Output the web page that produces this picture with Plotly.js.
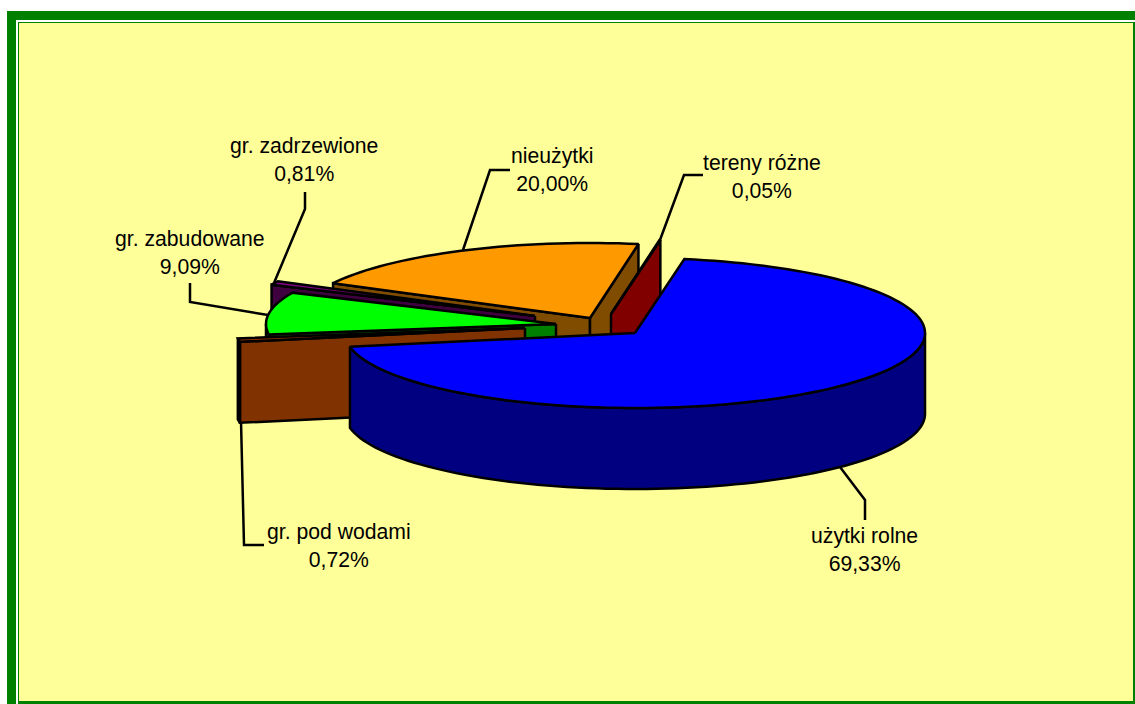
<!DOCTYPE html>
<html>
<head>
<meta charset="utf-8">
<script src="https://cdn.plot.ly/plotly-3.0.1.min.js"></script>
<style>html,body{margin:0;padding:0;background:#fff}#chart{width:1135px;height:704px}</style>
</head>
<body>
<div id="chart"></div>
<script>
// --- data (clockwise from the blue slice) ---
const categories = ["użytki rolne", "gr. pod wodami", "gr. zabudowane", "gr. zadrzewione", "nieużytki", "tereny różne"];
const values = [69.33, 0.72, 9.09, 0.81, 20.00, 0.05];

// --- styles ---
const topColors  = ["#0000FF", "#993300", "#00FF00", "#800080", "#FF9900", "#FF0000"];
const wallColors = ["#000080", "#803300", "#008000", "#400040", "#804D00", "#800000"];

// --- pie geometry ---
const startAngle = -80.2, radiusX = 290, radiusY = 75, depth = 81;
const apexX = [635, 525, 556, 535, 590, 611];
const apexY = [333, 328, 324, 316, 318, 314];
const paintOrder = [4, 5, 3, 2, 1, 0];

// --- label anchors ---
const labelX = [864, 339, 190, 304, 552, 762];
const labelY = [549, 545, 252, 159, 169, 176];
const leaders = [
  "M865,520 L865,500 L840,467",
  "M264,545 L244,545 L241,421",
  "M190,283 L190,302 L268,315",
  "M305,192 L305,209 L274,283",
  "M510,170 L490,170 L463,250",
  "M703,175 L684,175 L660,240"
];

const rad = d => d * Math.PI / 180;
const total = values.reduce((a, b) => a + b, 0);
const traces = [];

function poly(xs, ys, color) {
  traces.push({
    type: "scatter", mode: "lines", x: xs.concat(xs[0]), y: ys.concat(ys[0]),
    fill: "toself", fillcolor: color,
    line: { color: "#000", width: 2.5, simplify: false },
    hoverinfo: "skip", showlegend: false
  });
}

let a = startAngle;
const spans = values.map(v => {
  const s = [a, a + v / total * 360];
  a = s[1];
  return s;
});

function arc(i, t0, t1) {
  const n = Math.max(2, Math.ceil(Math.abs(t1 - t0) / 2));
  const xs = [], ys = [];
  for (let k = 0; k <= n; k++) {
    const t = rad(t0 + (t1 - t0) * k / n);
    xs.push(apexX[i] + radiusX * Math.cos(t));
    ys.push(apexY[i] + radiusY * Math.sin(t));
  }
  return [xs, ys];
}

function edgeWall(i, t) {
  const [ax, ay] = arc(i, t, t);
  const ox = ax[0], oy = ay[0];
  poly([apexX[i], ox, ox, apexX[i]],
       [apexY[i], oy, oy + depth, apexY[i] + depth], wallColors[i]);
}

function outerWall(i, t0, t1) {
  [[0, 180], [360, 540]].forEach(([lo, hi]) => {
    const s = Math.max(t0, lo), e = Math.min(t1, hi);
    if (e <= s) return;
    const [xs, ys] = arc(i, s, e);
    poly(xs.concat(xs.slice().reverse()),
         ys.concat(ys.slice().reverse().map(y => y + depth)), wallColors[i]);
  });
}

paintOrder.forEach(i => {
  const [t0, t1] = spans[i];
  if (Math.cos(rad(t0)) < 0) edgeWall(i, t0);
  if (Math.cos(rad(t1)) > 0) edgeWall(i, t1);
  outerWall(i, t0, t1);
  const [xs, ys] = arc(i, t0, t1);
  poly([apexX[i]].concat(xs), [apexY[i]].concat(ys), topColors[i]);
});

const rect = (x0, y0, x1, y1, c) => ({
  type: "rect", xref: "x", yref: "y", x0, y0, x1, y1,
  fillcolor: c, line: { width: 0 }, layer: "below"
});

const shapes = [
  rect(7, 11, 1135, 704, "#008000"),
  rect(16, 20, 1135, 704, "#FFFFFF"),
  rect(18, 22, 1135, 704, "#008000"),
  rect(19, 23, 1133, 701, "#FFFF99")
].concat(leaders.map(p => ({
  type: "path", xref: "x", yref: "y", path: p,
  line: { color: "#000", width: 2.5 }, layer: "below"
})));

const annotations = categories.map((c, i) => ({
  xref: "x", yref: "y", x: labelX[i], y: labelY[i],
  text: c + "<br>" + values[i].toFixed(2).replace(".", ",") + "%",
  showarrow: false, align: "center", xanchor: "center", yanchor: "middle",
  font: { family: "Liberation Sans, Arial, sans-serif", size: 21.2, color: "#000" }
}));

Plotly.newPlot("chart", traces, {
  width: 1135, height: 704,
  margin: { l: 0, r: 0, t: 0, b: 0, pad: 0 },
  paper_bgcolor: "#FFFFFF", plot_bgcolor: "rgba(0,0,0,0)",
  xaxis: { range: [0, 1135], visible: false, fixedrange: true },
  yaxis: { range: [704, 0], visible: false, fixedrange: true },
  showlegend: false, shapes, annotations
}, { displayModeBar: false, staticPlot: true });
</script>
</body>
</html>
